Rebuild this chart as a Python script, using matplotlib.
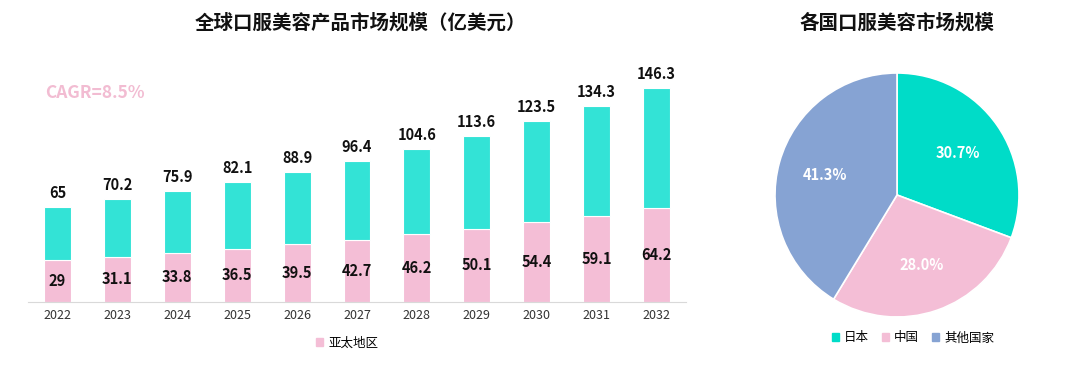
import matplotlib
matplotlib.use("Agg")
import matplotlib.pyplot as plt
from matplotlib.patches import Patch

plt.rcParams['font.family'] = ['Noto Sans CJK SC', 'DejaVu Sans']

years = ['2022', '2023', '2024', '2025', '2026', '2027', '2028', '2029', '2030', '2031', '2032']
totals = [65, 70.2, 75.9, 82.1, 88.9, 96.4, 104.6, 113.6, 123.5, 134.3, 146.3]
apac = [29, 31.1, 33.8, 36.5, 39.5, 42.7, 46.2, 50.1, 54.4, 59.1, 64.2]
total_labels = ['65', '70.2', '75.9', '82.1', '88.9', '96.4', '104.6', '113.6', '123.5', '134.3', '146.3']
apac_labels = ['29', '31.1', '33.8', '36.5', '39.5', '42.7', '46.2', '50.1', '54.4', '59.1', '64.2']

pie_labels = ['日本', '中国', '其他国家']
pie_values = [30.7, 28.0, 41.3]

teal_bar = '#33E3D6'
pink = '#F4BED6'
teal_pie = '#00DCC8'
blue = '#86A3D3'

W, H = 1080, 366
fig = plt.figure(figsize=(10.8, 3.66), dpi=100)

# ---- bar chart ----
c0, step = 57.5, 59.9
ax = fig.add_axes([28 / W, 1 - 302 / H, (686 - 28) / W, (302 - 60) / H])
x = list(range(len(years)))
rest = [t - a for t, a in zip(totals, apac)]
ax.bar(x, apac, width=0.45, color=pink, edgecolor='white', linewidth=0.8)
ax.bar(x, rest, bottom=apac, width=0.45, color=teal_bar, edgecolor='white', linewidth=0.8)
ax.set_xlim((28 - c0) / step, (686 - c0) / step)
ax.set_ylim(0, (302 - 60) / 1.463)
for i in x:
    ax.text(i, totals[i] + 4, total_labels[i], ha='center', va='bottom',
            fontsize=10.5, fontweight='bold', color='#111111')
    ax.text(i, apac[i] / 2, apac_labels[i], ha='center', va='center',
            fontsize=10.5, fontweight='bold', color='#111111')
for s in ['top', 'right', 'left']:
    ax.spines[s].set_visible(False)
ax.spines['bottom'].set_color('#D9D9D9')
ax.set_yticks([])
ax.set_xticks(x)
ax.set_xticklabels(years, fontsize=9, color='#333333')
ax.tick_params(axis='x', length=0, pad=5)
ax.text(45 / W, 1 - 93 / H, 'CAGR=8.5%', transform=fig.transFigure, fontsize=12.5,
        fontweight='bold', color='#F2BCD2', va='center', ha='left')
fig.text(360 / W, 1 - 23 / H, '全球口服美容产品市场规模（亿美元）', ha='center', va='center',
         fontsize=14, fontweight='bold', color='#111111')
fig.legend(handles=[Patch(color=pink, label='亚太地区')], loc='center',
           bbox_to_anchor=(347 / W, 1 - 343 / H), frameon=False, fontsize=9,
           handlelength=0.6, handleheight=0.6, handletextpad=0.4)

# ---- pie chart ----
r = 122
pax = fig.add_axes([(897 - r) / W, 1 - (195 + r) / H, 2 * r / W, 2 * r / H])
wedges, texts, autotexts = pax.pie(
    pie_values, colors=[teal_pie, pink, blue], startangle=90, counterclock=False,
    autopct='%1.1f%%', pctdistance=0.61,
    wedgeprops=dict(edgecolor='white', linewidth=1.2),
    textprops=dict(color='white', fontsize=10.5, fontweight='bold'))
pax.set_xlim(-1, 1)
pax.set_ylim(-1, 1)
pax.set_aspect('equal')
fig.text(897 / W, 1 - 23 / H, '各国口服美容市场规模', ha='center', va='center',
         fontsize=14, fontweight='bold', color='#111111')
fig.legend(handles=[Patch(color=c, label=l) for c, l in zip([teal_pie, pink, blue], pie_labels)],
           loc='center', bbox_to_anchor=(913 / W, 1 - 338 / H), ncol=3, frameon=False,
           fontsize=9, handlelength=0.6, handleheight=0.6, handletextpad=0.4,
           columnspacing=1.0)

fig.savefig('out.png', dpi=100)
